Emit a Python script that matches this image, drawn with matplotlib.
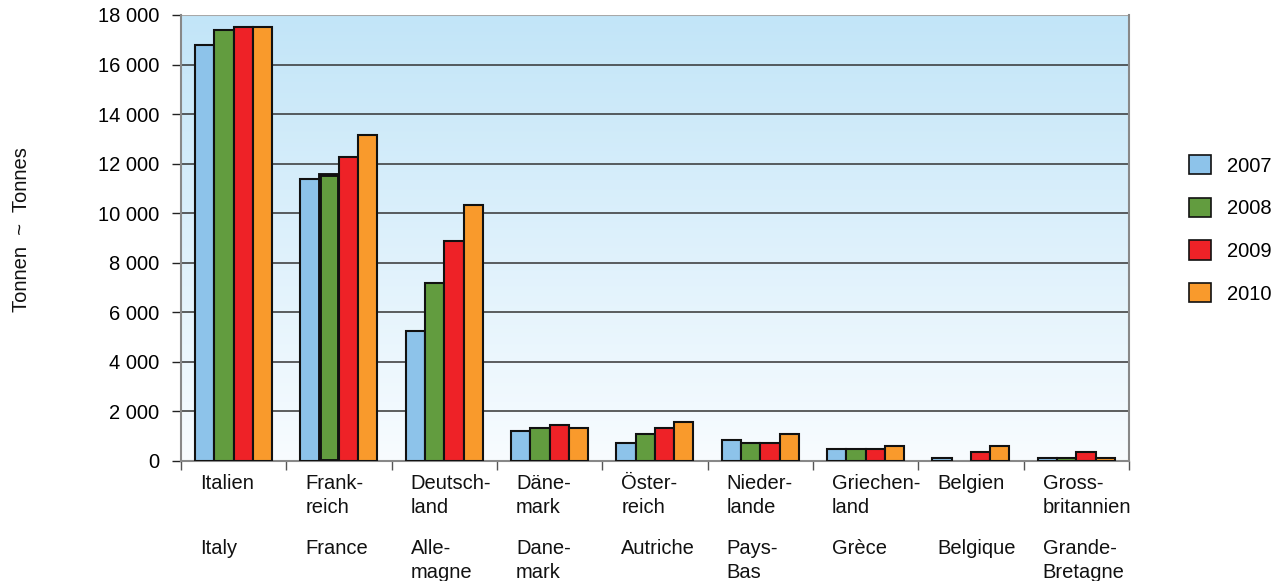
import numpy as np
import matplotlib
matplotlib.use("Agg")
import matplotlib.pyplot as plt
from matplotlib.colors import LinearSegmentedColormap
import matplotlib.transforms as mtransforms

plt.rcParams['font.family'] = ['Liberation Sans', 'DejaVu Sans']

categories_de = ["Italien", "Frank-\nreich", "Deutsch-\nland", "Däne-\nmark", "Öster-\nreich",
                 "Nieder-\nlande", "Griechen-\nland", "Belgien", "Gross-\nbritannien"]
categories_fr = ["Italy", "France", "Alle-\nmagne", "Dane-\nmark", "Autriche",
                 "Pays-\nBas", "Grèce", "Belgique", "Grande-\nBretagne"]
years = ["2007", "2008", "2009", "2010"]
v2007 = [16800, 11400, 5250, 1220, 740, 850, 480, 130, 120]
v2008 = [17400, 11550, 7180, 1330, 1100, 730, 480, 0, 110]
v2009 = [17500, 12250, 8880, 1470, 1330, 730, 480, 380, 380]
v2010 = [17500, 13150, 10330, 1330, 1590, 1100, 620, 620, 120]
yticks = [0, 2000, 4000, 6000, 8000, 10000, 12000, 14000, 16000, 18000]
ytick_labels = ["0", "2 000", "4 000", "6 000", "8 000", "10 000", "12 000", "14 000", "16 000", "18 000"]

colors = ["#8DC3EA", "#629C3F", "#EE2227", "#F99A2C"]
series = [v2007, v2008, v2009, v2010]
FS = 14.5

W, H = 1276, 581
fig = plt.figure(figsize=(W / 100, H / 100), dpi=100)
AX_L, AX_R, AX_T, AX_B = 181, 1129, 15, 461
ax = fig.add_axes([AX_L / W, 1 - AX_B / H, (AX_R - AX_L) / W, (AX_B - AX_T) / H])

n = len(categories_de)
ax.set_xlim(0, n)
ax.set_ylim(0, 18000)

# gradient background
cmap = LinearSegmentedColormap.from_list("bg", ["#F8FCFF", "#C2E5F8"])
grad = np.linspace(0, 1, 256).reshape(-1, 1)
ax.imshow(grad, aspect="auto", cmap=cmap, origin="lower",
          extent=[0, n, 0, 18000], zorder=0)

for y in yticks[1:-1]:
    ax.axhline(y, color="#333333", lw=1.1, zorder=1)

x = np.arange(n)
bw = 0.183
offset0 = 0.133
for i, (vals, c) in enumerate(zip(series, colors)):
    lws = [1.5] * n
    if i == 1:
        lws[1] = 2.8
    for j, v in enumerate(vals):
        if v <= 0:
            continue
        ax.bar(x[j] + offset0 + i * bw, v, width=bw, align="edge", color=c,
               edgecolor="#111111", linewidth=lws[j], zorder=3)

# legend handles
for i, c in enumerate(colors):
    ax.bar([0], [0], color=c, edgecolor="#111111", linewidth=1.2, label=years[i])

ax.set_yticks(yticks)
ax.set_yticklabels(ytick_labels, fontsize=FS)
ax.set_xticks(np.arange(0, n + 1))
ax.set_xticklabels([])
ax.tick_params(axis="y", length=6.5, width=1, color="#222222", pad=9, direction="out")
ax.tick_params(axis="x", length=6.5, width=1, color="#555555", direction="out")

ax.spines["top"].set_visible(False)
for s in ["left", "right", "bottom"]:
    ax.spines[s].set_color("#888888")
    ax.spines[s].set_linewidth(1.5)
ax.axhline(18000, color="#a8a8a8", lw=1.5, zorder=2)

trans = mtransforms.blended_transform_factory(ax.transData, fig.transFigure)
def put_lines(xpos, label, first_baseline):
    for k, line in enumerate(label.split("\n")):
        ax.text(xpos, 1 - (first_baseline + 24 * k) / H, line, transform=trans,
                ha="left", va="baseline", fontsize=FS, color="#111111", clip_on=False)

for j in range(n):
    put_lines(j + 0.18, categories_de[j], 489)
    put_lines(j + 0.18, categories_fr[j], 554)

fig.text(22 / W, 1 - 230 / H, "Tonnen  ~  Tonnes", rotation=90, ha="center", va="center",
         fontsize=FS, color="#111111")

leg = fig.legend(loc="upper left", bbox_to_anchor=(1189 / W, 1 - 155 / H), frameon=False,
                 fontsize=FS, handlelength=1.1, handleheight=1.1, labelspacing=1.1,
                 handletextpad=0.8, borderpad=0, borderaxespad=0)

fig.savefig("out.png", dpi=100, facecolor="white")
